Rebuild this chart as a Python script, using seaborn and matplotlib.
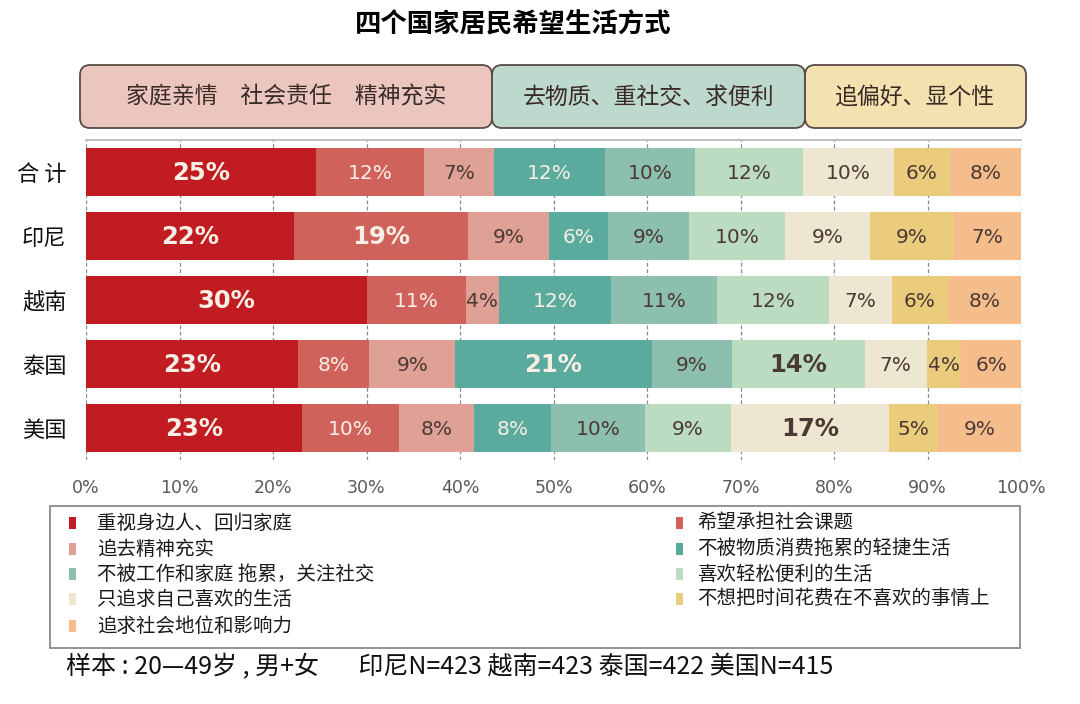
import matplotlib
matplotlib.use("Agg")
import matplotlib.pyplot as plt
from matplotlib.patches import FancyBboxPatch, Rectangle
import numpy as np
import pandas as pd
import seaborn as sns

sns.set_theme(style="white")
plt.rcParams['font.family'] = ['Noto Sans CJK SC', 'DejaVu Sans']

# ---- data ----
countries = ["合 计", "印尼", "越南", "泰国", "美国"]
categories = ["重视身边人、回归家庭", "希望承担社会课题", "追去精神充实",
              "不被物质消费拖累的轻捷生活", "不被工作和家庭 拖累，关注社交", "喜欢轻松便利的生活",
              "只追求自己喜欢的生活", "不想把时间花费在不喜欢的事情上", "追求社会地位和影响力"]
family = [24.6, 22.2, 30.0, 22.7, 23.1]
social_duty = [11.6, 18.7, 10.6, 7.6, 10.4]
spirit = [7.4, 8.6, 3.6, 9.2, 8.0]
light_life = [11.9, 6.3, 12.0, 21.0, 8.2]
socialize = [9.6, 8.7, 11.3, 8.6, 10.1]
easy_life = [11.6, 10.3, 12.0, 14.2, 9.2]
own_taste = [9.7, 9.1, 6.7, 6.6, 16.9]
no_waste = [6.0, 8.9, 6.0, 3.7, 5.2]
status = [7.6, 7.2, 7.8, 6.4, 8.9]
groups = ["家庭亲情　社会责任　精神充实", "去物质、重社交、求便利", "追偏好、显个性"]
footer = "样本 : 20—49岁 , 男+女       印尼N=423 越南=423 泰国=422 美国N=415"

colors = ["#C11C22", "#D0625C", "#DFA195", "#5BAA9E", "#8DBFAE",
          "#BCDCC2", "#EDE6D0", "#EBCB7C", "#F5BC8C"]
light_text = [True, True, False, True, False, False, False, False, False]

shares = np.array([family, social_duty, spirit, light_life, socialize,
                   easy_life, own_taste, no_waste, status])
ends = shares.cumsum(axis=0)
starts = ends - shares

fig = plt.figure(figsize=(10.8, 7.04), dpi=100)

# pixel-space overlay for boxes, title, legend
bg = fig.add_axes([0, 0, 1, 1], zorder=0)
bg.set_xlim(0, 1080)
bg.set_ylim(704, 0)
bg.axis("off")

ax = fig.add_axes([86 / 1080, 1 - 460 / 704, 935 / 1080, 320 / 704], zorder=1)
ax.patch.set_alpha(0)

# stacked bars: draw the cumulative totals from the longest down
for i in reversed(range(len(categories))):
    df = pd.DataFrame({"country": countries, "end": ends[i]})
    sns.barplot(data=df, x="end", y="country", orient="h", color=colors[i],
                saturation=1, width=0.76, errorbar=None, linewidth=0, ax=ax)

for i in range(len(categories)):
    for j in range(len(countries)):
        v = shares[i, j]
        big = v >= 13
        ax.text(starts[i, j] + v / 2, j + 0.02, f"{v:.0f}%", ha="center", va="center",
                fontsize=17.5 if big else 14.5, fontweight="bold" if big else "normal",
                color="#F7EFE6" if light_text[i] else "#4B3A34",
                family="DejaVu Sans", zorder=5)

ax.set_xlim(0, 100)
ax.set_ylim(4.5, -0.5)
ax.set_xlabel("")
ax.set_ylabel("")
ax.set_xticks(range(0, 101, 10))
ax.set_xticklabels([f"{t}%" for t in range(0, 101, 10)], family="DejaVu Sans",
                   fontsize=12.5, color="#595959")
ax.tick_params(axis="x", length=0, pad=14)
ax.tick_params(axis="y", length=0, pad=14, labelsize=16, labelcolor="#111111")
ax.xaxis.grid(True, linestyle=(0, (3, 2)), color="#8A8A8A", linewidth=0.9)
ax.set_axisbelow(True)
for s in ["left", "right", "bottom"]:
    ax.spines[s].set_visible(False)
ax.spines["top"].set_color("#B5B5B5")
ax.spines["top"].set_linewidth(1.2)

# title
bg.text(513, 25, "四个国家居民希望生活方式", ha="center", va="center",
        fontsize=19, fontweight="bold", color="#000000")

# group header boxes
box_x = [80, 492, 805]
box_w = [412, 313, 221]
box_c = ["#EBC6BE", "#BDD9CE", "#F3E1AF"]
for x0, w, c, t in zip(box_x, box_w, box_c, groups):
    bg.add_patch(FancyBboxPatch((x0, 65), w, 63, boxstyle="round,pad=0,rounding_size=10",
                                fc=c, ec="#5A4A45", lw=1.3))
    bg.text(x0 + w / 2, 97, t, ha="center", va="center", fontsize=16.5, color="#3A2A25")

# legend
bg.add_patch(Rectangle((50, 506), 970, 142, fc="none", ec="#8A8A8A", lw=1.3))
row_y = [523, 549, 574, 599, 626]
for k, (lab, c) in enumerate(zip(categories, colors)):
    col, row = k % 2, k // 2
    mx = 69 if col == 0 else 676
    tx = 97 if col == 0 else 697
    y = row_y[row]
    bg.add_patch(Rectangle((mx, y - 6), 7, 12, fc=c, ec="none"))
    bg.text(tx, y, lab, ha="left", va="center", fontsize=14, color="#1A1A1A")

bg.text(66, 667, footer, ha="left", va="center", fontsize=18, color="#111111")

fig.savefig("out.png", dpi=100)
